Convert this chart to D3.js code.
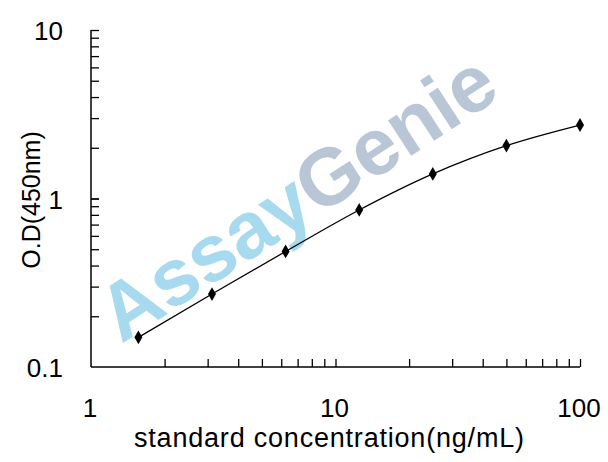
<!DOCTYPE html>
<html>
<head>
<meta charset="utf-8">
<script src="https://cdn.jsdelivr.net/npm/d3@7"></script>
<style>
  body { margin: 0; background: #fff; }
  svg { display: block; }
  text { font-family: "Liberation Sans", Arial, sans-serif; }
</style>
</head>
<body>
<svg width="608" height="462"></svg>
<script>
// standard curve data
var concentration = [1.5625, 3.125, 6.25, 12.5, 25, 50, 100];
var od = [0.150, 0.271, 0.485, 0.855, 1.40, 2.06, 2.73];
var xTickLabels = ["1", "10", "100"];
var yTickLabels = ["0.1", "1", "10"];

var svg = d3.select("svg"),
    mLeft = 91, mRight = 580, mTop = 30, mBottom = 367;

var x = d3.scaleLog().domain([1, 100]).range([mLeft, mRight]);
var y = d3.scaleLog().domain([0.1, 10]).range([mBottom, mTop]);

// watermark
var wm = svg.append("text")
    .attr("transform", "translate(312,220) rotate(-33)")
    .attr("text-anchor", "middle")
    .style("font-size", "80px")
    .style("font-weight", "bold")
    .attr("textLength", 455);
wm.append("tspan").attr("fill", "#a8daef").text("Assay");
wm.append("tspan").attr("fill", "#b8c6d5").text("Genie");

// minor ticks inside, no labels
var minorX = d3.range(1, 3).flatMap(function(e) { return d3.range(2, 11).map(function(m) { return m * Math.pow(10, e - 1); }); });
var minorY = d3.range(0, 2).flatMap(function(e) { return d3.range(2, 11).map(function(m) { return m * Math.pow(10, e - 1); }); });

var xAxis = svg.append("g")
    .attr("transform", "translate(0," + mBottom + ")")
    .call(d3.axisTop(x).tickValues(minorX).tickSize(8).tickFormat(""));
var yAxis = svg.append("g")
    .attr("transform", "translate(" + mLeft + ",0)")
    .call(d3.axisRight(y).tickValues(minorY.concat([1])).tickSize(8).tickFormat(""));

[xAxis, yAxis].forEach(function(a) {
  a.select(".domain").attr("stroke", "#000").attr("stroke-width", 1.5);
  a.selectAll(".tick line").attr("stroke", "#000").attr("stroke-width", 1.3);
});
xAxis.select(".domain").attr("d", "M" + mLeft + ",0H" + mRight);
yAxis.select(".domain").attr("d", "M0," + mBottom + "V" + mTop);

// tick labels
svg.selectAll(".xlab").data(xTickLabels).enter().append("text")
    .attr("x", function(d) { return x(+d) - 1; })
    .attr("y", 417)
    .attr("text-anchor", "middle")
    .style("font-size", "26px")
    .text(function(d) { return d; });

svg.selectAll(".ylab").data(yTickLabels).enter().append("text")
    .attr("x", 63)
    .attr("y", function(d) { return y(+d) + 10; })
    .attr("text-anchor", "end")
    .style("font-size", "26px")
    .text(function(d) { return d; });

// axis titles
svg.append("text")
    .attr("x", 329).attr("y", 447)
    .attr("text-anchor", "middle")
    .attr("textLength", 390)
    .style("font-size", "27px")
    .text("standard concentration(ng/mL)");
svg.append("text")
    .attr("transform", "translate(40,200) rotate(-90)")
    .attr("text-anchor", "middle")
    .style("font-size", "25px")
    .text("O.D(450nm)");

// curve
var line = d3.line()
    .x(function(d, i) { return x(concentration[i]); })
    .y(function(d) { return y(d); })
    .curve(d3.curveMonotoneX);

svg.append("path")
    .datum(od)
    .attr("d", line)
    .attr("fill", "none")
    .attr("stroke", "#000")
    .attr("stroke-width", 1.3);

svg.selectAll(".pt").data(od).enter().append("path")
    .attr("d", d3.symbol().type(d3.symbolDiamond).size(55))
    .attr("transform", function(d, i) { return "translate(" + x(concentration[i]) + "," + y(d) + ")"; })
    .attr("fill", "#000");
</script>
</body>
</html>
